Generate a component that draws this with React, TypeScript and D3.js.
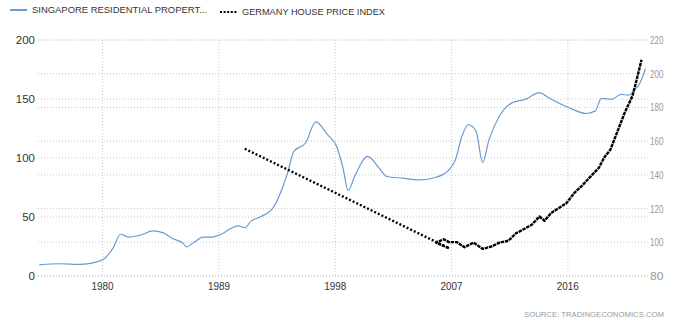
import React from "react";
import * as d3 from "d3";

const sgYears = [1975.1, 1976.7, 1978.2, 1979.9, 1980.8, 1981.4, 1982.0, 1982.9, 1983.9, 1984.7, 1985.4, 1986.2, 1986.5, 1987.0, 1987.8, 1988.4, 1989.3, 1989.9, 1990.5, 1991.0, 1991.5, 1992.1, 1993.2, 1993.9, 1994.3, 1994.8, 1995.7, 1996.5, 1997.4, 1998.1, 1998.6, 1999.0, 1999.5, 2000.5, 2001.4, 2002.0, 2003.2, 2004.5, 2005.8, 2006.8, 2007.3, 2007.8, 2008.3, 2008.9, 2009.4, 2009.9, 2010.7, 2011.7, 2012.7, 2013.8, 2014.5, 2016.1, 2017.4, 2018.1, 2018.6, 2019.4, 2020.1, 2020.7, 2021.2, 2021.6, 2022.0];
const sgValues = [9.5, 10.4, 9.8, 13.2, 23.5, 35.4, 33, 34.5, 38.2, 36.5, 31.7, 28, 24.6, 28, 33, 33, 36, 40.2, 42.5, 41, 46.7, 49.6, 58, 74.4, 87, 105.6, 112.7, 130.6, 119.8, 109.9, 91.4, 72.3, 84.3, 101.3, 91.4, 84.3, 82.9, 81.4, 83.7, 90, 98.5, 118.4, 128.4, 122.6, 96.2, 115.6, 135.4, 146.9, 149.7, 155.4, 151.1, 142.6, 137.7, 139.7, 150.5, 149.7, 153.9, 153.3, 158.2, 164, 175.6];

const geYears = [1991.0, 2006.8, 2005.8, 2006.4, 2006.8, 2007.4, 2008.0, 2008.7, 2009.4, 2010.1, 2010.7, 2011.4, 2012.0, 2012.5, 2013.2, 2013.8, 2014.2, 2014.7, 2015.3, 2015.9, 2016.5, 2017.1, 2017.9, 2018.4, 2018.8, 2019.3, 2019.5, 2019.9, 2020.4, 2021.0, 2021.3, 2021.7];
const geValues = [155.5, 96.5, 99.8, 101.8, 100.1, 100.1, 97.1, 99.8, 96.1, 97.5, 99.8, 100.9, 105.4, 107.4, 110.4, 115.3, 112.8, 117.4, 120.3, 123.3, 129.3, 133.6, 140.2, 144.2, 150.1, 155.1, 159.1, 167, 176.9, 186.8, 195.7, 208.3];

const xTicks = [1980, 1989, 1998, 2007, 2016];
const leftTicks = [0, 50, 100, 150, 200];
const rightTicks = [80, 100, 120, 140, 160, 180, 200, 220];

const seriesNames = ["SINGAPORE  RESIDENTIAL  PROPERT...", "GERMANY HOUSE PRICE INDEX"];
const sourceText = "SOURCE:  TRADINGECONOMICS.COM";

const W = 673, H = 326;
const plotL = 38, plotR = 648, plotT = 40, plotB = 276;
const blue = "#6a9bd0";
const font = "'Liberation Sans', Arial, sans-serif";

export default function App() {
  const x = d3.scaleLinear().domain([1975, 2022.2]).range([plotL, plotR]);
  const yL = d3.scaleLinear().domain([0, 200]).range([plotB, plotT]);
  const yR = d3.scaleLinear().domain([80, 220]).range([plotB, plotT]);

  const sgData = sgYears.map((t, i) => [t, sgValues[i]] as [number, number]);
  const geData = geYears.map((t, i) => [t, geValues[i]] as [number, number]);

  const sgLine = d3.line<[number, number]>().x(d => x(d[0])).y(d => yL(d[1])).curve(d3.curveMonotoneX);
  const geLine = d3.line<[number, number]>().x(d => x(d[0])).y(d => yR(d[1]));

  const sparseSegs: [number, number][][] = [];
  const denseRuns: [number, number][][] = [];
  let run: [number, number][] = [];
  for (let i = 1; i < geData.length; i++) {
    const a = geData[i - 1], b = geData[i];
    const len = Math.hypot(x(b[0]) - x(a[0]), yR(b[1]) - yR(a[1]));
    if (len > 40) {
      sparseSegs.push([a, b]);
      if (run.length) { denseRuns.push(run); run = []; }
    } else {
      if (!run.length) run.push(a);
      run.push(b);
    }
  }
  if (run.length) denseRuns.push(run);

  return (
    <svg width={W} height={H} style={{ position: "absolute", left: 0, top: 0, background: "#fff" }} fontFamily={font}>
      <rect x={0} y={0} width={W} height={H} fill="#fff" />
      {leftTicks.map(v => (
        <line key={"gl" + v} x1={plotL} x2={plotR} y1={yL(v)} y2={yL(v)} stroke="#c8c8c8" strokeWidth={1} strokeDasharray="1,2" />
      ))}
      {rightTicks.map(v => (
        <line key={"gr" + v} x1={plotL} x2={plotR} y1={yR(v)} y2={yR(v)} stroke="#c8c8c8" strokeWidth={1} strokeDasharray="1,2" />
      ))}
      {xTicks.map(t => (
        <line key={"gx" + t} x1={x(t)} x2={x(t)} y1={plotT} y2={plotB + 1} stroke="#c8c8c8" strokeWidth={1} strokeDasharray="1,2" />
      ))}
      {leftTicks.map(v => (
        <text key={"ll" + v} x={35} y={yL(v) + 4} textAnchor="end" fontSize={11.5} fill="#333">{v}</text>
      ))}
      {rightTicks.map(v => (
        <text key={"rl" + v} x={650} y={yR(v) + 4} fontSize={11} fill="#999" textLength={13.5} lengthAdjust="spacingAndGlyphs">{v}</text>
      ))}
      {xTicks.map(t => (
        <text key={"xl" + t} x={x(t) - 11} y={290} fontSize={11.5} fill="#333" textLength={22} lengthAdjust="spacingAndGlyphs">{t}</text>
      ))}
      <path d={sgLine(sgData) || ""} fill="none" stroke={blue} strokeWidth={1.2} />
      {sparseSegs.map((s, i) => (
        <path key={"gs" + i} d={geLine(s) || ""} fill="none" stroke="#000" strokeWidth={2.4} strokeDasharray="2,2" />
      ))}
      {denseRuns.map((r, i) => (
        <path key={"gd" + i} d={geLine(r) || ""} fill="none" stroke="#000" strokeWidth={2.4} strokeDasharray="3.5,0.8" strokeLinejoin="round" />
      ))}
      <line x1={10} x2={27} y1={10} y2={10} stroke={blue} strokeWidth={2} />
      <text x={32} y={13} fontSize={9.5} fill="#333" textLength={175} lengthAdjust="spacingAndGlyphs">{seriesNames[0]}</text>
      <line x1={220} x2={237} y1={12} y2={12} stroke="#000" strokeWidth={2.2} strokeDasharray="2,1.6" />
      <text x={242} y={15} fontSize={9.5} fill="#333" textLength={143} lengthAdjust="spacingAndGlyphs">{seriesNames[1]}</text>
      <text x={524} y={317} fontSize={8} fill="#999" textLength={140} lengthAdjust="spacingAndGlyphs">{sourceText}</text>
    </svg>
  );
}
